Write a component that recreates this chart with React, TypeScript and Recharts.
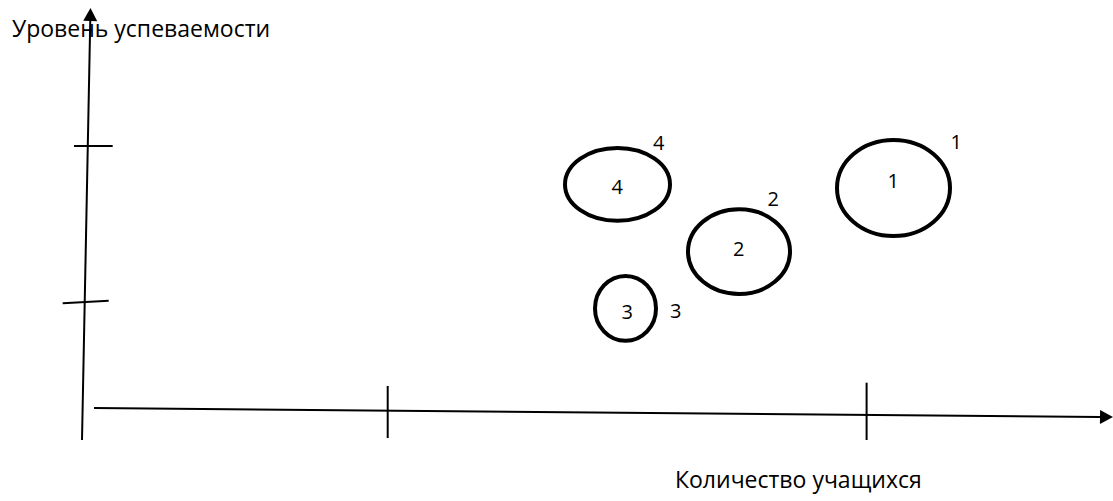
import { ScatterChart, Scatter, XAxis, YAxis, ReferenceLine } from "recharts";

const WIDTH = 1113;
const HEIGHT = 501;
const AXIS_BAND = 1;
const MARGIN = { top: 10, right: 7, bottom: 91 - AXIS_BAND, left: 86 - AXIS_BAND };
const X_DOMAIN: [number, number] = [0, 102];
const Y_DOMAIN: [number, number] = [0, 100];

// pixels per data unit, same linear mapping the axes use
const PX_PER_X = (WIDTH - 86 - MARGIN.right) / (X_DOMAIN[1] - X_DOMAIN[0]);
const PX_PER_Y = (HEIGHT - MARGIN.top - 91) / (Y_DOMAIN[1] - Y_DOMAIN[0]);

// groups of pupils: centre and spread on both axes
const GROUPS = ["1", "2", "3", "4"];
const STUDENTS = [80.75, 65.3, 53.95, 53.15];
const LEVEL = [55.5, 39.6, 25.4, 56.4];
const STUDENTS_SPREAD = [5.65, 5.1, 3.05, 5.25];
const LEVEL_SPREAD = [12, 10.6, 8.1, 9.1];

const X_TICKS = [30.17, 78.06];
const Y_TICKS = [66, 27];

// hand-drawn axes (data units)
const Y_AXIS_PATH = [{ x: -0.4, y: -7.5 }, { x: 0.45, y: 100.5 }];
const X_AXIS_PATH = [{ x: 0.8, y: 0.5 }, { x: 102.7, y: -1.75 }];

const X_TITLE = "Количество учащихся";
const Y_TITLE = "Уровень успеваемости";

// styling of the sketch
const FONT = "'Open Sans', 'DejaVu Sans', sans-serif";
const LABEL_SIZE = 20;
const INNER_OFFSET = [[-0.2, -7.5], [-0.3, -3.2], [1.8, 3.8], [-0.2, 2.2]];
const OUTER_OFFSET = [[62.8, -46.3], [34.3, -52.8], [50.2, 2.5], [41.2, -41.8]];
const X_TICK_SPAN: Record<string, [number, number]> = { "30.17": [-24, 28], "78.06": [-27.3, 30] };
const Y_TICK_SPAN: Record<string, [number, number, number]> = { "66": [-12, 26.7, 0], "27": [-23.3, 22.7, 1.3] };

const table = GROUPS.map((g, i) => ({
  name: g,
  students: STUDENTS[i],
  level: LEVEL[i],
  studentsSpread: STUDENTS_SPREAD[i],
  levelSpread: LEVEL_SPREAD[i],
}));

function ArrowLine(props: any) {
  const { x1, y1, x2, y2 } = props;
  const dx = x2 - x1;
  const dy = y2 - y1;
  const len = Math.hypot(dx, dy) || 1;
  const ux = dx / len;
  const uy = dy / len;
  const L = 13;
  const W = 7;
  const bx = x2 - ux * L;
  const by = y2 - uy * L;
  const pts = `${x2},${y2} ${bx - uy * W},${by + ux * W} ${bx + uy * W},${by - ux * W}`;
  return (
    <g>
      <line x1={x1} y1={y1} x2={bx} y2={by} stroke="#000" strokeWidth={2} />
      <polygon points={pts} fill="#000" />
    </g>
  );
}

function XCrossTick(props: any) {
  const { x, y, payload } = props;
  const span = X_TICK_SPAN[String(payload.value)] || [-25, 28];
  return <line x1={x} x2={x} y1={y + span[0]} y2={y + span[1]} stroke="#000" strokeWidth={2} />;
}

function YCrossTick(props: any) {
  const { x, y, payload } = props;
  const span = Y_TICK_SPAN[String(payload.value)] || [-15, 25, 0];
  return (
    <line x1={x + span[0]} x2={x + span[1]} y1={y + span[2]} y2={y - span[2]} stroke="#000" strokeWidth={2} />
  );
}

function GroupShape(props: any) {
  const { cx, cy, payload } = props;
  const i = GROUPS.indexOf(payload.name);
  const rx = payload.studentsSpread * PX_PER_X;
  const ry = payload.levelSpread * PX_PER_Y;
  const base = LABEL_SIZE * 0.36;
  return (
    <g>
      <ellipse cx={cx} cy={cy} rx={rx} ry={ry} fill="none" stroke="#000" strokeWidth={4} />
      <text
        x={cx + INNER_OFFSET[i][0]}
        y={cy + INNER_OFFSET[i][1] + base}
        textAnchor="middle"
        fontFamily={FONT}
        fontSize={LABEL_SIZE}
        fill="#000"
      >
        {payload.name}
      </text>
      <text
        x={cx + OUTER_OFFSET[i][0]}
        y={cy + OUTER_OFFSET[i][1] + base}
        textAnchor="middle"
        fontFamily={FONT}
        fontSize={LABEL_SIZE}
        fill="#000"
      >
        {payload.name}
      </text>
    </g>
  );
}

const titleStyle = {
  position: "absolute" as const,
  fontFamily: FONT,
  fontSize: 23,
  lineHeight: "23px",
  color: "#000",
  whiteSpace: "nowrap" as const,
};

export default function App() {
  return (
    <div style={{ position: "fixed", left: 0, top: 0, width: WIDTH, height: HEIGHT, background: "#fff" }}>
      <ScatterChart width={WIDTH} height={HEIGHT} margin={MARGIN}>
        <XAxis
          dataKey="students"
          type="number"
          domain={X_DOMAIN}
          ticks={X_TICKS}
          interval={0}
          height={AXIS_BAND}
          axisLine={false}
          tickLine={false}
          tickSize={0}
          tickMargin={0}
          tick={<XCrossTick />}
        />
        <YAxis
          dataKey="level"
          type="number"
          domain={Y_DOMAIN}
          ticks={Y_TICKS}
          interval={0}
          width={AXIS_BAND}
          axisLine={false}
          tickLine={false}
          tickSize={0}
          tickMargin={0}
          tick={<YCrossTick />}
        />
        <ReferenceLine segment={Y_AXIS_PATH} ifOverflow="visible" shape={ArrowLine} />
        <ReferenceLine segment={X_AXIS_PATH} ifOverflow="visible" shape={ArrowLine} />
        <Scatter data={table} shape={GroupShape} isAnimationActive={false} />
      </ScatterChart>
      <div style={{ ...titleStyle, left: 12, top: 16.6 }}>{Y_TITLE}</div>
      <div style={{ ...titleStyle, left: 675, top: 467.6 }}>{X_TITLE}</div>
    </div>
  );
}
